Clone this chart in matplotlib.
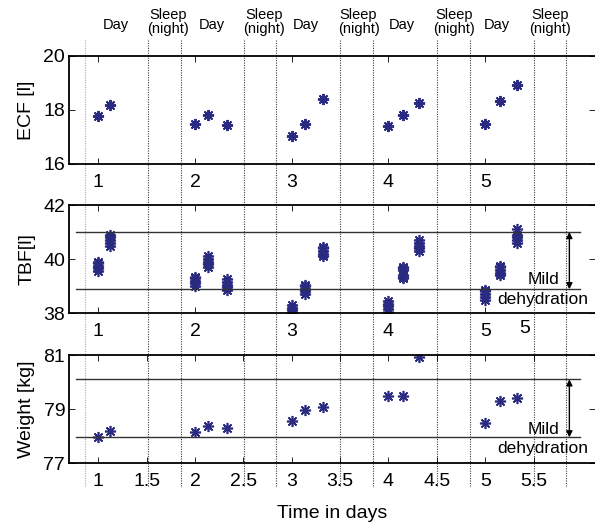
import numpy as np
import matplotlib
matplotlib.use('Agg')
from matplotlib import pyplot as plt

plt.rcParams['font.family'] = ['Liberation Sans', 'DejaVu Sans']

# measurement times (days)
times = [1.0, 1.12, 2.0, 2.13, 2.33, 3.0, 3.14, 3.32, 4.0, 4.15, 4.32, 5.0, 5.15, 5.33]

# extracellular fluid [l]
ecf = [17.76, 18.2, 17.49, 17.83, 17.45, 17.02, 17.47, 18.39, 17.39, 17.8, 18.26, 17.49, 18.32, 18.94]

# total body fluid [l], several readings per measurement time
tbf = [
    [39.55, 39.65, 39.75, 39.85, 39.9],
    [40.5, 40.6, 40.7, 40.8, 40.9],
    [39.0, 39.1, 39.2, 39.3, 39.35],
    [39.7, 39.8, 39.9, 40.0, 40.1],
    [38.85, 38.95, 39.05, 39.15, 39.25],
    [38.0, 38.1, 38.2, 38.3],
    [38.7, 38.8, 38.9, 39.0, 39.05],
    [40.1, 40.2, 40.3, 40.4, 40.45],
    [38.05, 38.15, 38.25, 38.35, 38.45],
    [39.3, 39.35, 39.4, 39.6, 39.65, 39.7],
    [40.3, 40.4, 40.5, 40.6, 40.7],
    [38.5, 38.6, 38.7, 38.8, 38.85],
    [39.4, 39.5, 39.6, 39.7, 39.75],
    [40.6, 40.7, 40.8, 40.9, 41.1],
]

# body weight [kg]
weight = [77.96, 78.19, 78.16, 78.38, 78.28, 78.56, 78.98, 79.09, 79.5, 79.5, 80.91, 78.48, 79.29, 79.4]

# dehydration band limits
tbf_band = [41.0, 38.88]
weight_band = [80.1, 77.95]

# wake up / go to sleep transitions
transitions = [0.86, 1.51, 1.85, 2.51, 2.84, 3.5, 3.84, 4.5, 4.84, 5.5, 5.84]
day_label_x = [1.177, 2.17, 3.15, 4.14, 5.12]
sleep_label_x = [1.724, 2.71, 3.69, 4.68, 5.67]

day_ticks = [1, 2, 3, 4, 5]
half_ticks = [1, 1.5, 2, 2.5, 3, 3.5, 4, 4.5, 5, 5.5]

W, H = 595, 524
col = '#2a2a80'
star = (8, 2, 0)
xlim = (0.70, 6.135)

fig = plt.figure(figsize=(W / 100, H / 100), dpi=100)

left = 69.3 / W
width = 1.0 - left

# background for the day / night dotted lines
bg = fig.add_axes([left, 0, width, 1])
bg.set_xlim(xlim)
bg.set_ylim(H, 0)
bg.axis('off')
for i, tx in enumerate(transitions):
    c = '0.65' if i == 0 else '0.25'
    bg.vlines(tx, 40, 487, colors=c, linestyles=(0, (1, 1.2)), linewidth=0.8)
for x in day_label_x:
    bg.text(x, 24.5, 'Day', ha='center', va='center', fontsize=10.5)
for x in sleep_label_x:
    bg.text(x, 22, 'Sleep\n(night)', ha='center', va='center', fontsize=10.5, linespacing=1.0)


def setup(ax, ylo, yhi, yticks, ylabel, xticks, xlabels):
    ax.patch.set_alpha(0)
    ax.set_xlim(xlim)
    ax.set_ylim(ylo, yhi)
    ax.set_yticks(yticks)
    ax.set_xticks(xticks)
    ax.set_xticklabels(xlabels)
    ax.tick_params(direction='in', length=4, width=0.6, labelsize=14,
                   top=True, right=True, pad=7)
    ax.tick_params(axis='y', pad=3)
    ax.spines['right'].set_visible(False)
    for s in ['left', 'top', 'bottom']:
        ax.spines[s].set_linewidth(1.3)
    ax.set_ylabel(ylabel, fontsize=14)
    ax.yaxis.set_label_coords(-0.065, 0.5)


ax_h = 108 / H
ax1 = fig.add_axes([left, 1 - 164 / H, width, ax_h])
ax2 = fig.add_axes([left, 1 - 313 / H, width, ax_h])
ax3 = fig.add_axes([left, 1 - 463 / H, width, ax_h])

# ECF
setup(ax1, 16, 20, [16, 18, 20], 'ECF [l]', day_ticks, [str(d) for d in day_ticks])
ax1.plot(times, ecf, linestyle='none', marker=star, markersize=8,
         markeredgewidth=1.4, color=col)

# TBF
setup(ax2, 38, 42, [38, 40, 42], 'TBF[l]', day_ticks, [str(d) for d in day_ticks])
for t, vals in zip(times, tbf):
    ax2.plot([t] * len(vals), vals, linestyle='none', marker=star, markersize=8,
             markeredgewidth=1.2, color=col)
for yv in tbf_band:
    ax2.plot([0.77, 5.98], [yv, yv], color='0.2', linewidth=1.0)
ax2.annotate('', xy=(5.87, tbf_band[1]), xytext=(5.87, tbf_band[0]),
             arrowprops=dict(arrowstyle='<|-|>', color='black', lw=1.0, mutation_scale=9,
                             shrinkA=0, shrinkB=0))
ax2.text(5.6, 39.23, 'Mild', ha='center', va='center', fontsize=12.5)
ax2.text(5.59, 38.5, 'dehydration', ha='center', va='center', fontsize=12.5)
ax2.text(5.41, -0.14, '5', transform=ax2.get_xaxis_transform(), ha='center', va='center',
         fontsize=14)

# Weight
setup(ax3, 77, 81, [77, 79, 81], 'Weight [kg]', half_ticks, ['%g' % v for v in half_ticks])
ax3.plot(times, weight, linestyle='none', marker=star, markersize=8,
         markeredgewidth=1.2, color=col)
for yv in weight_band:
    ax3.plot([0.77, 5.98], [yv, yv], color='0.2', linewidth=1.0)
ax3.annotate('', xy=(5.87, weight_band[1]), xytext=(5.87, weight_band[0]),
             arrowprops=dict(arrowstyle='<|-|>', color='black', lw=1.0, mutation_scale=9,
                             shrinkA=0, shrinkB=0))
ax3.text(5.6, 78.25, 'Mild', ha='center', va='center', fontsize=12.5)
ax3.text(5.59, 77.55, 'dehydration', ha='center', va='center', fontsize=12.5)
ax3.set_xlabel('Time in days', fontsize=14, labelpad=11)

fig.savefig('out.png', dpi=100)
